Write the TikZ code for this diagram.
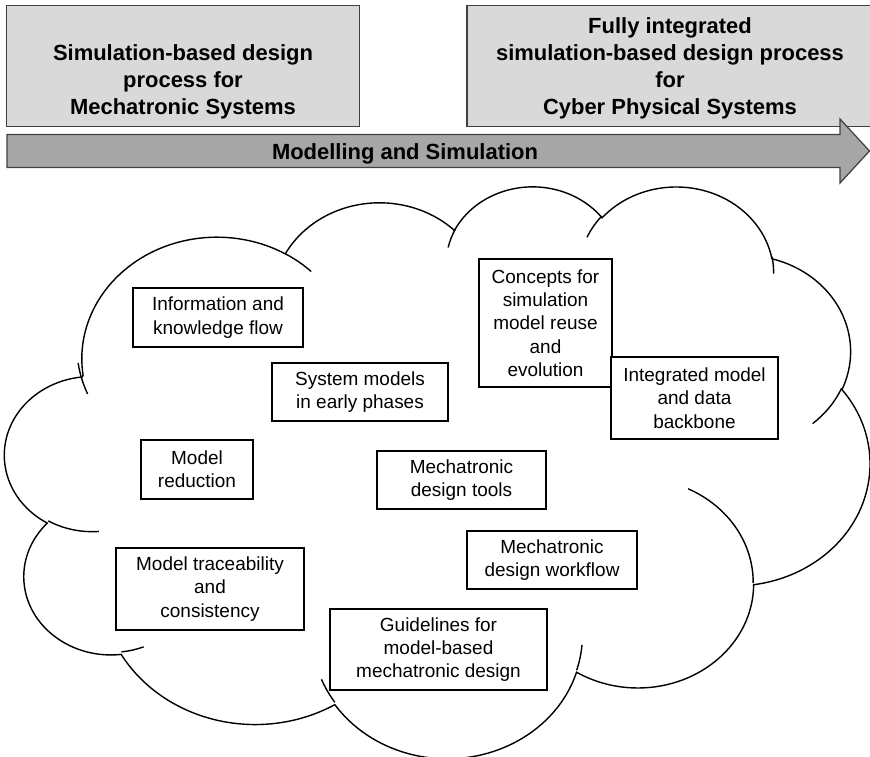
\documentclass[tikz,border=0pt]{standalone}
\usepackage{fontspec}
\setmainfont{Liberation Sans}
\usepackage{tikz}
\usetikzlibrary{positioning}

\begin{document}
\begin{tikzpicture}[
    x=0.02cm, y=-0.02cm,
    topbox/.style={draw=black!75, fill=black!15, line width=0.8pt, inner sep=0pt, minimum height=2.43cm},
    toptext/.style={font=\fontsize{12.5}{15.5}\selectfont\bfseries, align=center, inner sep=0pt},
    topic/.style={draw, fill=white, line width=0.7pt, inner sep=0pt, align=center, font=\fontsize{10.8}{13.3}\selectfont},
    cloudline/.style={line width=0.8pt},
    % elliptic arc given by radii, start angle and sweep (angles as seen on the ellipse)
    cloud arc/.style n args={4}{insert path={arc[x radius=#1, y radius=#2,
        start angle={atan2((#1)*sin(#3),(#2)*cos(#3))},
        delta angle={mod(atan2((#1)*sin((#3)+(#4)),(#2)*cos((#3)+(#4)))-atan2((#1)*sin(#3),(#2)*cos(#3))-(#4)+540,360)-180+(#4)}]}},
]
\useasboundingbox (0,0) rectangle (870,757);
\clip (0,0) rectangle (870,757);

% Process boxes on top
\node[topbox, minimum width=7.05cm] (mechabox) at (183,66) {};
\node[topbox, minimum width=8.12cm] (cpsbox) at (670,66) {};
\node[toptext, above=4.4pt of mechabox.south] (mecha) {Simulation-based design\\process for\\Mechatronic Systems};
\node[toptext, above=4.4pt of cpsbox.south] (cps) {Fully integrated\\simulation-based design process\\for\\Cyber Physical Systems};

% Block arrow
\draw[draw=black!75, fill=black!35, line width=0.7pt] (7,134.5) -- (840,134.5) -- (840,119) -- (869.5,151) -- (840,183) -- (840,167.5) -- (7,167.5) -- cycle;
\node[toptext, anchor=base] (modsim) at (405,159.3) {Modelling and Simulation};

% Cloud — outline, then the short inner arcs (shape units 432 x 432)
\begin{scope}[shift={(5,185)}, x=0.040046cm, y=-0.026481cm]
  \draw[cloudline] (39,143.7)
    [cloud arc={67.53}{91.90}{-190.4875}{123.7805}]
    [cloud arc={53.33}{72.67}{-144.1024}{89.9452}]
    [cloud arc={43.65}{59.45}{-145.8079}{99.7230}]
    [cloud arc={48.57}{65.95}{-130.9861}{117.2417}]
    [cloud arc={53.33}{72.73}{-78.7089}{109.0269}]
    [cloud arc={67.75}{92.20}{-46.2673}{130.2690}]
    [cloud arc={57.85}{78.67}{0.6250}{114.0333}]
    [cloud arc={67.52}{92.15}{22.4516}{115.1726}]
    [cloud arc={77.20}{105.43}{66.2426}{75.7110}]
    [cloud arc={43.60}{59.18}{-274.9421}{146.7356}]
    [cloud arc={43.45}{59.45}{-246.8285}{152.5189}] -- cycle;
  \draw[cloudline]
    (46.93,261.77) [cloud arc={43.45}{59.45}{86.742}{26.4295}]
    (69.28,348.99) [cloud arc={43.60}{59.18}{73.6105}{11.4475}]
    (164.78,390.90) [cloud arc={67.52}{92.15}{137.6242}{14.0811}]
    (288.27,347.51) [cloud arc={67.52}{92.15}{6.4533}{15.9984}]
    (341.29,229.54) [cloud arc={57.85}{78.67}{-70.2924}{70.9174}]
    (417.98,153.54) [cloud arc={53.33}{72.73}{30.3180}{27.7515}]
    (383.24,54.26) [cloud arc={48.57}{65.95}{-13.7443}{14.8589}]
    (290.78,39.52) [cloud arc={48.57}{65.95}{-149.1815}{18.1954}]
    (221.41,47.20) [cloud arc={43.65}{59.45}{-163.4943}{17.6864}]
    (140.00,51.92) [cloud arc={67.53}{91.90}{-66.7070}{12.3194}]
    (41.27,157.89) [cloud arc={67.53}{91.90}{150.0000}{19.4254}];
\end{scope}

% Topics inside the cloud
\node[topic, minimum width=3.4cm, minimum height=1.18cm] (infoflow) at (218,317.5) {Information and\\knowledge flow};
\node[topic, minimum width=3.52cm, minimum height=1.16cm] (earlymodels) at (360,392) {System models\\in early phases};
\node[topic, minimum width=2.66cm, minimum height=2.56cm] (reuse) at (545.5,323) {Concepts for\\simulation\\model reuse\\and\\evolution};
\node[topic, minimum width=3.34cm, minimum height=1.64cm] (backbone) at (694.5,398) {Integrated model\\and data\\backbone};
\node[topic, minimum width=2.24cm, minimum height=1.18cm] (reduction) at (197,469.5) {Model\\reduction};
\node[topic, minimum width=3.38cm, minimum height=1.16cm] (tools) at (461.5,480) {Mechatronic\\design tools};
\node[topic, minimum width=3.4cm, minimum height=1.16cm] (workflow) at (552,560) {Mechatronic\\design workflow};
\node[topic, minimum width=3.76cm, minimum height=1.64cm] (traceability) at (210,589) {Model traceability\\and\\consistency};
\node[topic, minimum width=4.34cm, minimum height=1.62cm] (guidelines) at (438.5,649.5) {Guidelines for\\model-based\\mechatronic design};

\end{tikzpicture}
\end{document}
